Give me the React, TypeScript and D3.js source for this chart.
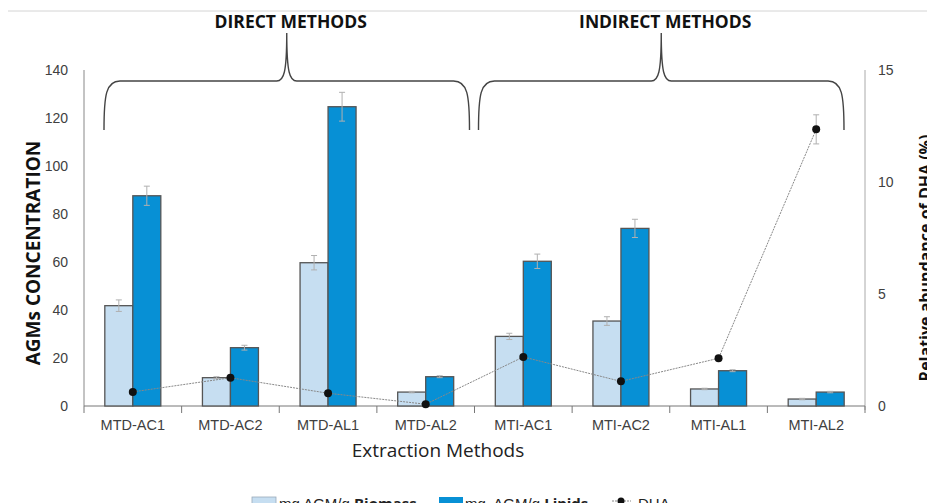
import React from "react";
import * as d3 from "d3";

// data
const categories = ["MTD-AC1", "MTD-AC2", "MTD-AL1", "MTD-AL2", "MTI-AC1", "MTI-AC2", "MTI-AL1", "MTI-AL2"];
const biomass = [41.8, 11.8, 59.7, 5.8, 29, 35.4, 7.1, 2.9];
const biomassErr = [2.4, 0.4, 3, 0.3, 1.3, 1.8, 0.3, 0.3];
const lipids = [87.6, 24.3, 124.7, 12.2, 60.3, 74, 14.7, 5.8];
const lipidsErr = [4, 1, 6, 0.4, 3, 3.8, 0.4, 0.3];
const dha = [0.63, 1.26, 0.57, 0.08, 2.19, 1.1, 2.13, 12.35];
const dhaErr = [0, 0, 0, 0, 0, 0, 0, 0.65];
const leftTicks = [0, 20, 40, 60, 80, 100, 120, 140];
const rightTicks = [0, 5, 10, 15];
const groups = [
  { label: "DIRECT METHODS", from: 0, to: 3 },
  { label: "INDIRECT METHODS", from: 4, to: 7 },
];

const W = 927;
const H = 503;
const m = { left: 84, right: 865, top: 70, bottom: 406 };

const LIGHT = "#c6def1";
const DARK = "#0790d5";
const EDGE = "#555";
const TXT = "#404040";

function bracePath(x0, x1, tip, yH, yTop, yEnd) {
  return `M${x0},${yEnd} C${x0},${yH + 14} ${x0 + 2},${yH} ${x0 + 16},${yH}
    L${tip - 10},${yH} C${tip - 3},${yH} ${tip},${yH - 8} ${tip},${yTop}
    C${tip},${yH - 8} ${tip + 3},${yH} ${tip + 10},${yH}
    L${x1 - 16},${yH} C${x1 - 2},${yH} ${x1},${yH + 14} ${x1},${yEnd}`;
}

export default function App() {
  const x = d3.scaleBand().domain(categories).range([m.left, m.right]).padding(0);
  const sub = d3.scaleBand().domain(["b", "l"]).range([-28, 28]).padding(0);
  const y = d3.scaleLinear().domain([0, 140]).range([m.bottom, m.top]);
  const y2 = d3.scaleLinear().domain([0, 15]).range([m.bottom, m.top]);
  const cx = (c) => x(c) + x.bandwidth() / 2;

  const line = d3
    .line()
    .x((d, i) => cx(categories[i]))
    .y((d) => y2(d));

  const series = [
    { key: "b", vals: biomass, err: biomassErr, fill: LIGHT },
    { key: "l", vals: lipids, err: lipidsErr, fill: DARK },
  ];

  const boundaries = [...categories.map((c) => x(c)), m.right];

  return (
    <svg
      width={W}
      height={H}
      style={{ position: "absolute", left: 0, top: 0, background: "#fff" }}
      fontFamily="'Liberation Sans', Arial, sans-serif"
    >
      <line x1={8} x2={W} y1={11} y2={11} stroke="#d4d4d4" strokeWidth={1} />

      {/* group braces */}
      {groups.map((g) => {
        const x0 = x(categories[g.from]) + (g.from === 0 ? 20 : 4);
        const x1 = x(categories[g.to]) + x.bandwidth() - (g.to === 3 ? 5 : 21);
        const tip = (x0 + x1) / 2;
        return (
          <g key={g.label}>
            <path d={bracePath(x0, x1, tip, 81, 33, 130)} fill="none" stroke="#444" strokeWidth={1.4} />
            <text
              x={tip + 4}
              y={28}
              textAnchor="middle"
              fontFamily="'Open Sans', sans-serif"
              fontWeight="bold"
              fontSize={17.5}
              fill="#111"
            >
              {g.label}
            </text>
          </g>
        );
      })}

      {/* axes */}
      <line x1={m.left} x2={m.left} y1={m.top} y2={m.bottom} stroke="#888" />
      <line x1={m.right} x2={m.right} y1={m.top} y2={m.bottom + 4} stroke="#aaa" />
      <line x1={m.left} x2={m.right} y1={m.bottom} y2={m.bottom} stroke="#777" />
      {boundaries.map((b, i) => (
        <line key={i} x1={b} x2={b} y1={m.bottom} y2={m.bottom + 7} stroke="#777" />
      ))}

      {leftTicks.map((t) => (
        <text key={t} x={68} y={y(t) + 5} textAnchor="end" fontSize={14} fill={TXT}>
          {t}
        </text>
      ))}
      {rightTicks.map((t) => (
        <text key={t} x={878} y={y2(t) + 5} textAnchor="start" fontSize={14} fill={TXT}>
          {t}
        </text>
      ))}

      {/* bars */}
      {series.map((s) =>
        categories.map((c, i) => (
          <rect
            key={s.key + c}
            x={cx(c) + sub(s.key)}
            y={y(s.vals[i])}
            width={sub.bandwidth()}
            height={y(0) - y(s.vals[i])}
            fill={s.fill}
            stroke={EDGE}
            strokeWidth={1.3}
          />
        ))
      )}
      {/* error bars */}
      {series.map((s) =>
        categories.map((c, i) => {
          const ex = cx(c) + sub(s.key) + sub.bandwidth() / 2;
          const hi = y(s.vals[i] + s.err[i]);
          const lo = y(s.vals[i] - s.err[i]);
          return (
            <g key={"e" + s.key + c} stroke="#b0b0b0" strokeWidth={1}>
              <line x1={ex} x2={ex} y1={hi} y2={lo} />
              <line x1={ex - 3} x2={ex + 3} y1={hi} y2={hi} />
              <line x1={ex - 3} x2={ex + 3} y1={lo} y2={lo} />
            </g>
          );
        })
      )}

      {/* DHA line */}
      <path d={line(dha)} fill="none" stroke="#888" strokeWidth={1} strokeDasharray="2,1" />
      {categories.map((c, i) =>
        dhaErr[i] > 0 ? (
          <g key={"de" + c} stroke="#b0b0b0" strokeWidth={1}>
            <line x1={cx(c)} x2={cx(c)} y1={y2(dha[i] + dhaErr[i])} y2={y2(dha[i] - dhaErr[i])} />
            <line x1={cx(c) - 3} x2={cx(c) + 3} y1={y2(dha[i] + dhaErr[i])} y2={y2(dha[i] + dhaErr[i])} />
            <line x1={cx(c) - 3} x2={cx(c) + 3} y1={y2(dha[i] - dhaErr[i])} y2={y2(dha[i] - dhaErr[i])} />
          </g>
        ) : null
      )}
      {categories.map((c, i) => (
        <circle key={"d" + c} cx={cx(c)} cy={y2(dha[i])} r={4} fill="#111" />
      ))}

      {/* category labels */}
      {categories.map((c) => (
        <text key={"t" + c} x={cx(c)} y={430} textAnchor="middle" fontSize={14.5} fill={TXT}>
          {c}
        </text>
      ))}

      <text x={438} y={457} textAnchor="middle" fontFamily="'Open Sans', sans-serif" fontSize={19} fill="#222">
        Extraction Methods
      </text>

      <text
        transform="translate(40,253) rotate(-90)"
        textAnchor="middle"
        fontFamily="'Open Sans', sans-serif"
        fontWeight="bold"
        fontSize={19}
        fill="#111"
      >
        AGMs CONCENTRATION
      </text>
      <text
        transform="translate(931,258) rotate(-90)"
        textAnchor="middle"
        fontFamily="'Open Sans', sans-serif"
        fontWeight="bold"
        fontSize={16}
        fill="#111"
      >
        Relative abundance of DHA (%)
      </text>

      {/* legend (cut off at bottom edge, as in the source) */}
      <g fontSize={15} fill="#222">
        <rect x={252} y={497} width={24} height={10} fill={LIGHT} stroke="#9ab" strokeWidth={0.8} />
        <text x={279} y={509}>
          mg AGM/g <tspan fontFamily="'Open Sans', sans-serif" fontWeight="bold">Biomass</tspan>
        </text>
        <rect x={439} y={497} width={24} height={10} fill={DARK} />
        <text x={465} y={509} xmlSpace="preserve">
          mg  AGM/g <tspan fontFamily="'Open Sans', sans-serif" fontWeight="bold">Lipids</tspan>
        </text>
        <line x1={612} x2={631} y1={501} y2={501} stroke="#888" strokeDasharray="2,1" />
        <circle cx={621} cy={501} r={3.5} fill="#111" />
        <text x={638} y={509}>DHA</text>
      </g>
    </svg>
  );
}
